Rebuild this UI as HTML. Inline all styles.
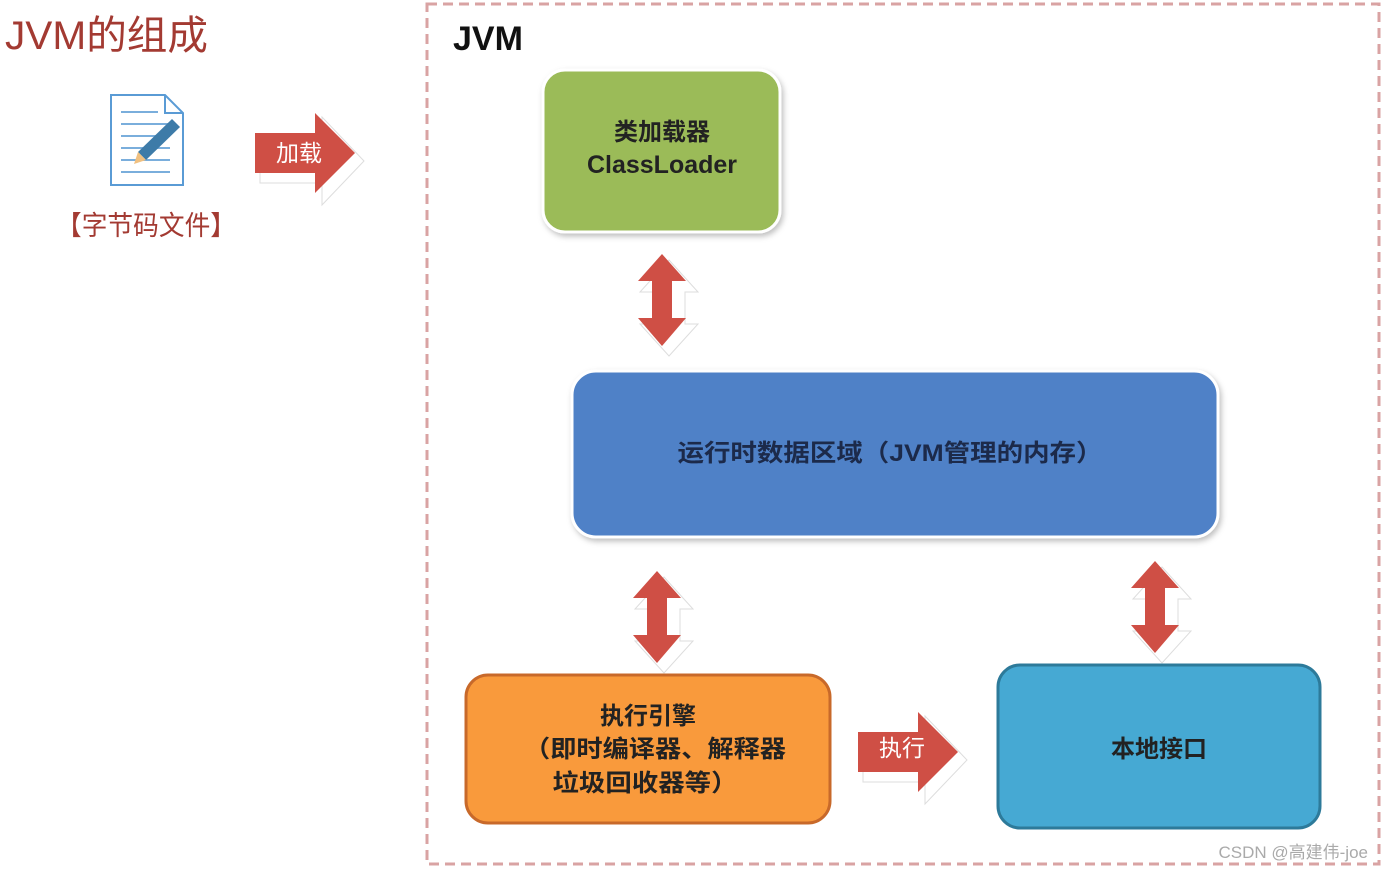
<!DOCTYPE html>
<html><head><meta charset="utf-8"><style>
body{margin:0;background:#fff;width:1384px;height:871px;overflow:hidden;font-family:"Liberation Sans","Noto Sans CJK SC",sans-serif}
</style></head><body>
<svg width="1384" height="871" xmlns="http://www.w3.org/2000/svg" font-family="Liberation Sans, Noto Sans CJK SC, sans-serif">
<defs>
<filter id="sh" x="-10%" y="-10%" width="130%" height="130%"><feDropShadow dx="2" dy="3" stdDeviation="3" flood-color="#000" flood-opacity="0.25"/></filter>
<g id="dbl">
<polygon points="4,4 33,36 20,36 20,68 33,68 4,100 -25,68 -12,68 -12,36 -25,36" fill="#fff" stroke="#ddd" stroke-width="1" transform="translate(3,2)"/>
<polygon points="0,0 24,27 10,27 10,64 24,64 0,92 -24,64 -10,64 -10,27 -24,27" fill="#cf4f45"/>
</g>
<g id="rgt">
<polygon points="0,22 62,22 62,0 104,44 62,88 62,66 0,66" fill="#fff" stroke="#ddd" transform="translate(5,4)"/>
<polygon points="0,20 60,20 60,0 100,40 60,80 60,60 0,60" fill="#cf4f45"/>
</g>
</defs>
<rect x="427" y="4" width="952" height="860" fill="none" stroke="#d9a3a3" stroke-width="3" stroke-dasharray="10,6"/>
<text x="5" y="49" font-size="40" fill="#a33a32" textLength="203" lengthAdjust="spacingAndGlyphs">JVM的组成</text>
<g>
<polygon points="111,95 165,95 183,113 183,185 111,185" fill="#fff" stroke="#5a9bd5" stroke-width="2"/>
<polyline points="165,95 165,113 183,113" fill="none" stroke="#5a9bd5" stroke-width="2"/>
<g stroke="#7aaedc" stroke-width="2"><line x1="121" y1="112" x2="158" y2="112"/><line x1="121" y1="124" x2="170" y2="124"/><line x1="121" y1="136" x2="170" y2="136"/><line x1="121" y1="148" x2="170" y2="148"/><line x1="121" y1="160" x2="170" y2="160"/><line x1="121" y1="172" x2="170" y2="172"/></g>
<polygon points="172,119 180,127 146,160 138,152" fill="#3d7ba8"/>
<polygon points="138,152 146,160 134,164" fill="#f0c080"/>
</g>
<text x="56" y="235" font-size="27" fill="#a33a32" textLength="180" lengthAdjust="spacingAndGlyphs">【字节码文件】</text>
<use href="#rgt" x="255" y="113"/>
<text x="276" y="161" font-size="23" fill="#fff">加载</text>
<text x="453" y="50" font-size="34" font-weight="bold" fill="#111">JVM</text>
<rect x="543" y="70" width="237" height="162" rx="22" fill="#9bbb59" stroke="#fff" stroke-width="3" filter="url(#sh)"/>
<text x="662" y="140" font-size="24" font-weight="bold" fill="#222" text-anchor="middle">类加载器</text>
<text x="662" y="173" font-size="25" font-weight="bold" fill="#222" text-anchor="middle">ClassLoader</text>
<use href="#dbl" x="662" y="254"/>
<rect x="572" y="371" width="646" height="166" rx="24" fill="#4f81c7" stroke="#fff" stroke-width="3" filter="url(#sh)"/>
<text x="890" y="461" font-size="24" font-weight="bold" fill="#1c2a4a" text-anchor="middle" textLength="425" lengthAdjust="spacingAndGlyphs">运行时数据区域（JVM管理的内存）</text>
<use href="#dbl" x="657" y="571"/>
<use href="#dbl" x="1155" y="561"/>
<rect x="466" y="675" width="364" height="148" rx="22" fill="#f99a3c" stroke="#c8692a" stroke-width="3"/>
<text x="648" y="724" font-size="24" font-weight="bold" fill="#222" text-anchor="middle">执行引擎</text>
<text x="655" y="757" font-size="24" font-weight="bold" fill="#222" text-anchor="middle" textLength="262" lengthAdjust="spacingAndGlyphs">（即时编译器、解释器</text>
<text x="645" y="791" font-size="24" font-weight="bold" fill="#222" text-anchor="middle" textLength="185" lengthAdjust="spacingAndGlyphs">垃圾回收器等）</text>
<use href="#rgt" x="858" y="712"/>
<text x="879" y="756" font-size="23" fill="#fff">执行</text>
<rect x="998" y="665" width="322" height="163" rx="22" fill="#46a9d3" stroke="#2d7a9a" stroke-width="3"/>
<text x="1159" y="757" font-size="24" font-weight="bold" fill="#222" text-anchor="middle">本地接口</text>
<text x="1368" y="858" font-size="17" fill="#aaa" text-anchor="end">CSDN @高建伟-joe</text>
</svg>
</body></html>
